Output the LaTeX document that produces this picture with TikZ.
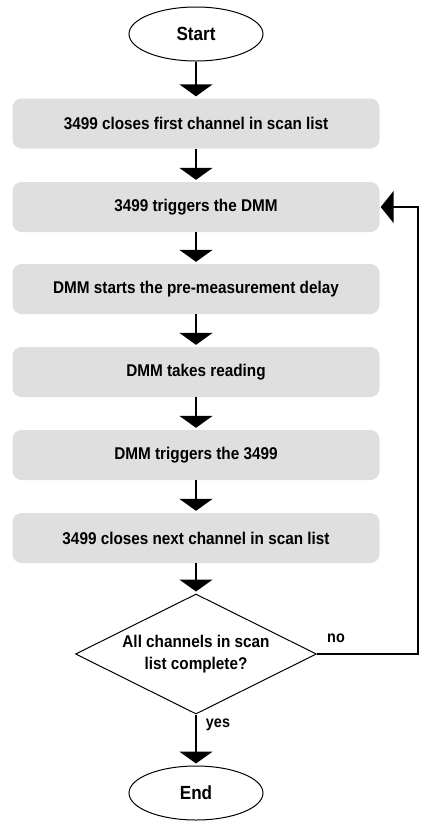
\documentclass[tikz,border=0pt]{standalone}
\usepackage{fontspec}
\setmainfont[FakeStretch=0.9]{Liberation Sans}
\usetikzlibrary{shapes,arrows.meta}
\definecolor{boxgray}{HTML}{DFDFDF}
\tikzstyle{term}=[ellipse,draw=black,line width=1pt,minimum width=134pt,minimum height=54pt,inner sep=0pt,font=\bfseries\fontsize{19}{22}\selectfont]
\tikzstyle{stp}=[rectangle,rounded corners=9pt,fill=boxgray,minimum width=367pt,minimum height=50pt,inner sep=0pt,font=\bfseries\fontsize{17}{20}\selectfont]
\tikzstyle{dec}=[diamond,aspect=2,draw=black,line width=1pt,minimum width=241pt,minimum height=120pt,inner sep=0pt,align=center,font=\bfseries\fontsize{17}{22}\selectfont]
\tikzstyle{arr}=[line width=2.5pt,-{Triangle[width=33pt,length=12pt]},shorten >=2pt]
\tikzstyle{lbl}=[font=\bfseries\fontsize{16}{18}\selectfont]

\begin{document}
\begin{tikzpicture}[x=1pt,y=-1pt]
\useasboundingbox (0,0) rectangle (422,823);
\node[term] (start) at (196,34) {Start};
\node[stp] (s1) at (196,123.5) {3499 closes first channel in scan list};
\node[stp] (s2) at (196,207) {3499 triggers the DMM};
\node[stp] (s3) at (196,289) {DMM starts the pre-measurement delay};
\node[stp] (s4) at (196,372) {DMM takes reading};
\node[stp] (s5) at (196,455) {DMM triggers the 3499};
\node[stp] (s6) at (196,538) {3499 closes next channel in scan list};
\node[dec] (chk) at (196,654) {All channels in scan\\list complete?};
\node[term] (end) at (196,793) {End};
\draw[arr] (start) -- (s1);
\draw[arr] (s1) -- (s2);
\draw[arr] (s2) -- (s3);
\draw[arr] (s3) -- (s4);
\draw[arr] (s4) -- (s5);
\draw[arr] (s5) -- (s6);
\draw[arr] (s6) -- (chk);
\draw[arr] (chk) -- (end);
\draw[line width=2pt,-{Triangle[width=32pt,length=13pt]},shorten >=1pt] (chk.east) -- ++(101,0) |- (s2.east);
\node[lbl] (no) at (336,638) {no};
\node[lbl] (yes) at (218,725) {yes};
\end{tikzpicture}
\end{document}
